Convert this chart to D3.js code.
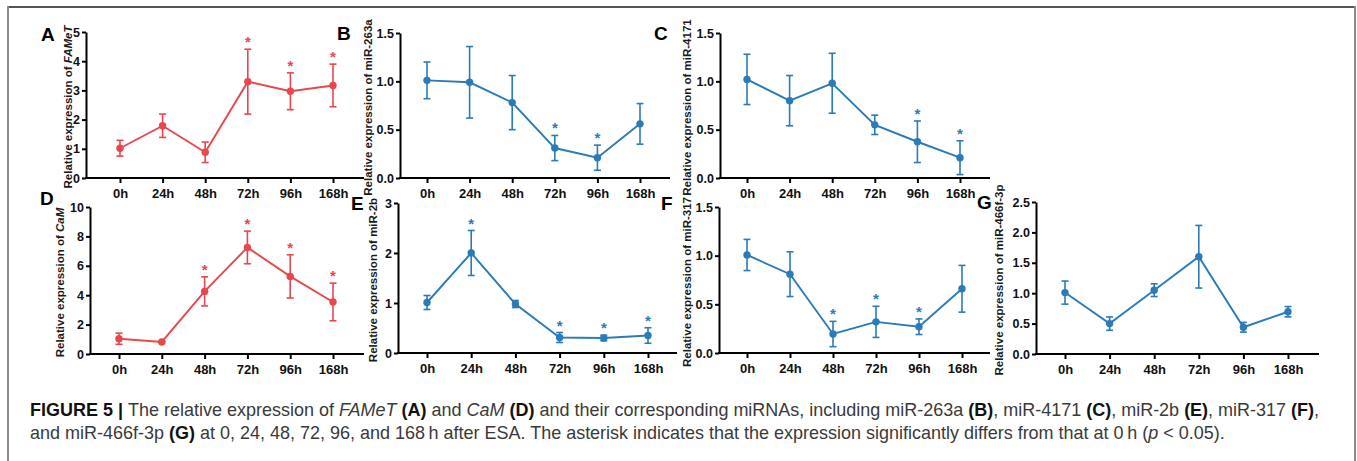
<!DOCTYPE html>
<html><head><meta charset="utf-8">
<script src="https://cdn.jsdelivr.net/npm/d3@7"></script>
<style>
body{margin:0;background:#fff;}
svg{display:block;font-family:"Liberation Sans",Arial,Helvetica,sans-serif;}
</style>
</head><body>
<svg id="chart" width="1357" height="461"></svg>
<script>
// ---------- data ----------
const categories = ["0h","24h","48h","72h","96h","168h"];

const fametMean = [1.02, 1.79, 0.88, 3.30, 2.97, 3.17];
const fametErr  = [0.27, 0.40, 0.35, 1.11, 0.63, 0.73];
const fametSig  = [0, 0, 0, 1, 1, 1];

const mir263aMean = [1.01, 0.99, 0.78, 0.31, 0.21, 0.56];
const mir263aErr  = [0.19, 0.37, 0.28, 0.13, 0.13, 0.21];
const mir263aSig  = [0, 0, 0, 1, 1, 0];

const mir4171Mean = [1.02, 0.80, 0.98, 0.55, 0.375, 0.21];
const mir4171Err  = [0.26, 0.26, 0.31, 0.10, 0.215, 0.175];
const mir4171Sig  = [0, 0, 0, 0, 1, 1];

const camMean = [1.04, 0.82, 4.26, 7.25, 5.28, 3.54];
const camErr  = [0.38, 0.05, 0.99, 1.11, 1.47, 1.28];
const camSig  = [0, 0, 1, 1, 1, 1];

const mir2bMean = [1.01, 2.00, 0.98, 0.31, 0.30, 0.35];
const mir2bErr  = [0.14, 0.45, 0.07, 0.10, 0.055, 0.155];
const mir2bSig  = [0, 1, 0, 1, 1, 1];

const mir317Mean = [1.007, 0.81, 0.195, 0.32, 0.27, 0.66];
const mir317Err  = [0.16, 0.23, 0.13, 0.16, 0.08, 0.24];
const mir317Sig  = [0, 0, 1, 1, 1, 0];

const mir466Mean = [1.01, 0.50, 1.05, 1.60, 0.44, 0.695];
const mir466Err  = [0.19, 0.11, 0.105, 0.515, 0.08, 0.085];
const mir466Sig  = [0, 0, 0, 0, 0, 0];

const ticksA = [0,1,2,3,4,5];
const ticks15 = [0,0.5,1.0,1.5];
const ticksD = [0,2,4,6,8,10];
const ticksE = [0,1,2,3];
const ticksG = [0,0.5,1.0,1.5,2.0,2.5];

const caption1 = [
  {t:"FIGURE 5 | ", b:1}, {t:"The relative expression of "}, {t:"FAMeT", i:1}, {t:" "}, {t:"(A)", b:1},
  {t:" and "}, {t:"CaM", i:1}, {t:" "}, {t:"(D)", b:1},
  {t:" and their corresponding miRNAs, including miR-263a "}, {t:"(B)", b:1},
  {t:", miR-4171 "}, {t:"(C)", b:1}, {t:", miR-2b "}, {t:"(E)", b:1},
  {t:", miR-317 "}, {t:"(F)", b:1}, {t:","}
];
const caption2 = [
  {t:"and miR-466f-3p "}, {t:"(G)", b:1},
  {t:" at 0, 24, 48, 72, 96, and 168\u2009h after ESA. The asterisk indicates that the expression significantly differs from that at 0\u2009h ("},
  {t:"p", i:1}, {t:" < 0.05)."}
];

// ---------- styles ----------
const RED = "#e8474c";
const BLUE = "#2a7bb8";

const panels = [
  {letter:"A", mean:fametMean, err:fametErr, sig:fametSig, color:RED, yMax:5, ticks:ticksA, fmt:"d",
   label:["Relative expression of ","FAMeT"], ax:86, x1:120, x2:333, xe:364, yt:32, yb:178, lx:41, ly:41, tx:68},
  {letter:"B", mean:mir263aMean, err:mir263aErr, sig:mir263aSig, color:BLUE, yMax:1.5, ticks:ticks15, fmt:".1f",
   label:["Relative expression of miR-263a"], ax:400, x1:427, x2:640, xe:670, yt:33, yb:178, lx:337, ly:40, tx:368},
  {letter:"C", mean:mir4171Mean, err:mir4171Err, sig:mir4171Sig, color:BLUE, yMax:1.5, ticks:ticks15, fmt:".1f",
   label:["Relative expression of miR-4171"], ax:720, x1:747, x2:960, xe:990, yt:33, yb:178, lx:654, ly:40, tx:687},
  {letter:"D", mean:camMean, err:camErr, sig:camSig, color:RED, yMax:10, ticks:ticksD, fmt:"d",
   label:["Relative expression of ","CaM"], ax:90, x1:119, x2:333, xe:364, yt:207, yb:354, lx:40, ly:205, tx:60},
  {letter:"E", mean:mir2bMean, err:mir2bErr, sig:mir2bSig, color:BLUE, yMax:3, ticks:ticksE, fmt:"d",
   label:["Relative expression of miR-2b"], ax:398, x1:427, x2:648, xe:677, yt:203, yb:353, lx:351, ly:210, tx:373},
  {letter:"F", mean:mir317Mean, err:mir317Err, sig:mir317Sig, color:BLUE, yMax:1.5, ticks:ticks15, fmt:".1f",
   label:["Relative expression of miR-317"], ax:719, x1:747, x2:962, xe:990, yt:207, yb:353, lx:661, ly:210, tx:687},
  {letter:"G", mean:mir466Mean, err:mir466Err, sig:mir466Sig, color:BLUE, yMax:2.5, ticks:ticksG, fmt:".1f",
   label:["Relative expression of miR-466f-3p"], ax:1036, x1:1065, x2:1288, xe:1319, yt:202, yb:354, lx:977, ly:209, tx:999}
];

const svg = d3.select("#chart");

// frame
svg.append("line").attr("x1",8).attr("x2",1356).attr("y1",7).attr("y2",7).attr("stroke","#555").attr("stroke-width",2);
svg.append("line").attr("x1",8).attr("x2",8).attr("y1",6).attr("y2",461).attr("stroke","#8a8a8a").attr("stroke-width",2);
svg.append("line").attr("x1",1355).attr("x2",1355).attr("y1",6).attr("y2",461).attr("stroke","#8a8a8a").attr("stroke-width",2);

panels.forEach(p => {
  const g = svg.append("g");
  const x = d3.scalePoint().domain(categories).range([p.x1, p.x2]);
  const y = d3.scaleLinear().domain([0, p.yMax]).range([p.yb, p.yt]);

  // y axis
  const ya = g.append("g").attr("transform", `translate(${p.ax},0)`)
    .call(d3.axisLeft(y).tickValues(p.ticks).tickFormat(d3.format(p.fmt)).tickSize(4).tickSizeOuter(0).tickPadding(2));
  ya.select(".domain").attr("stroke","#000").attr("stroke-width",2);
  ya.selectAll(".tick line").attr("stroke","#000").attr("stroke-width",2);
  ya.selectAll(".tick text").attr("font-size",12.5).attr("font-weight","bold").attr("fill","#111")
    .attr("font-family",'"Liberation Sans",Arial,sans-serif');

  // x axis
  const xa = g.append("g").attr("transform", `translate(0,${p.yb})`)
    .call(d3.axisBottom(x).tickSize(5).tickPadding(6));
  xa.select(".domain").remove();
  xa.selectAll(".tick line").attr("stroke","#000").attr("stroke-width",2);
  xa.selectAll(".tick text").attr("font-size",13).attr("font-weight","bold").attr("fill","#111")
    .attr("font-family",'"Liberation Sans",Arial,sans-serif');
  g.append("line").attr("x1", p.ax - 1).attr("x2", p.xe).attr("y1", p.yb).attr("y2", p.yb)
    .attr("stroke","#000").attr("stroke-width",2);

  // y label
  const lab = g.append("text")
    .attr("transform", `translate(${p.tx},${(p.yt + p.yb) / 2 + 2}) rotate(-90)`)
    .attr("text-anchor","middle").attr("dy","0.35em")
    .attr("font-size",11.5).attr("font-weight","bold").attr("fill","#1a1a1a");
  p.label.forEach((s, k) => {
    const ts = lab.append("tspan").text(s);
    if (k === 1) ts.attr("font-style","italic");
  });

  // panel letter
  g.append("text").attr("x", p.lx).attr("y", p.ly).text(p.letter)
    .attr("font-size",19).attr("font-weight","bold").attr("fill","#000");

  const data = categories.map((c, i) => ({c, m: p.mean[i], e: p.err[i], s: p.sig[i]}));

  // line
  g.append("path").datum(data)
    .attr("d", d3.line().x(d => x(d.c)).y(d => y(d.m)))
    .attr("fill","none").attr("stroke", p.color).attr("stroke-width",1.9);

  // error bars
  const eb = g.selectAll(".eb").data(data).enter().append("g");
  eb.append("line").attr("x1", d => x(d.c)).attr("x2", d => x(d.c))
    .attr("y1", d => y(d.m + d.e)).attr("y2", d => y(d.m - d.e))
    .attr("stroke", p.color).attr("stroke-width",1.6);
  eb.append("line").attr("x1", d => x(d.c) - 3.5).attr("x2", d => x(d.c) + 3.5)
    .attr("y1", d => y(d.m + d.e)).attr("y2", d => y(d.m + d.e))
    .attr("stroke", p.color).attr("stroke-width",1.6);
  eb.append("line").attr("x1", d => x(d.c) - 3.5).attr("x2", d => x(d.c) + 3.5)
    .attr("y1", d => y(d.m - d.e)).attr("y2", d => y(d.m - d.e))
    .attr("stroke", p.color).attr("stroke-width",1.6);

  // points
  g.selectAll(".pt").data(data).enter().append("circle")
    .attr("cx", d => x(d.c)).attr("cy", d => y(d.m)).attr("r",3.7).attr("fill", p.color);

  // asterisks
  g.selectAll(".st").data(data.filter(d => d.s)).enter().append("text")
    .attr("x", d => x(d.c)).attr("y", d => y(d.m + d.e) - 2)
    .attr("text-anchor","middle").attr("font-size",15).attr("font-weight","bold")
    .attr("fill", p.color).text("*");
});

// caption
function captionLine(segs, yPos) {
  const t = svg.append("text").attr("x",30).attr("y",yPos).attr("font-size",16).attr("fill","#3a3a3a");
  segs.forEach(s => {
    const ts = t.append("tspan").text(s.t);
    if (s.b) ts.attr("font-weight","bold").attr("fill","#111");
    if (s.i) ts.attr("font-style","italic");
  });
  return t;
}
const l1 = captionLine(caption1, 416);
const l2 = captionLine(caption2, 439);
const w = l1.node().getComputedTextLength();
const fs = 16 * 1290 / w;
l1.attr("font-size", fs);
l2.attr("font-size", fs);
</script>
</body></html>
